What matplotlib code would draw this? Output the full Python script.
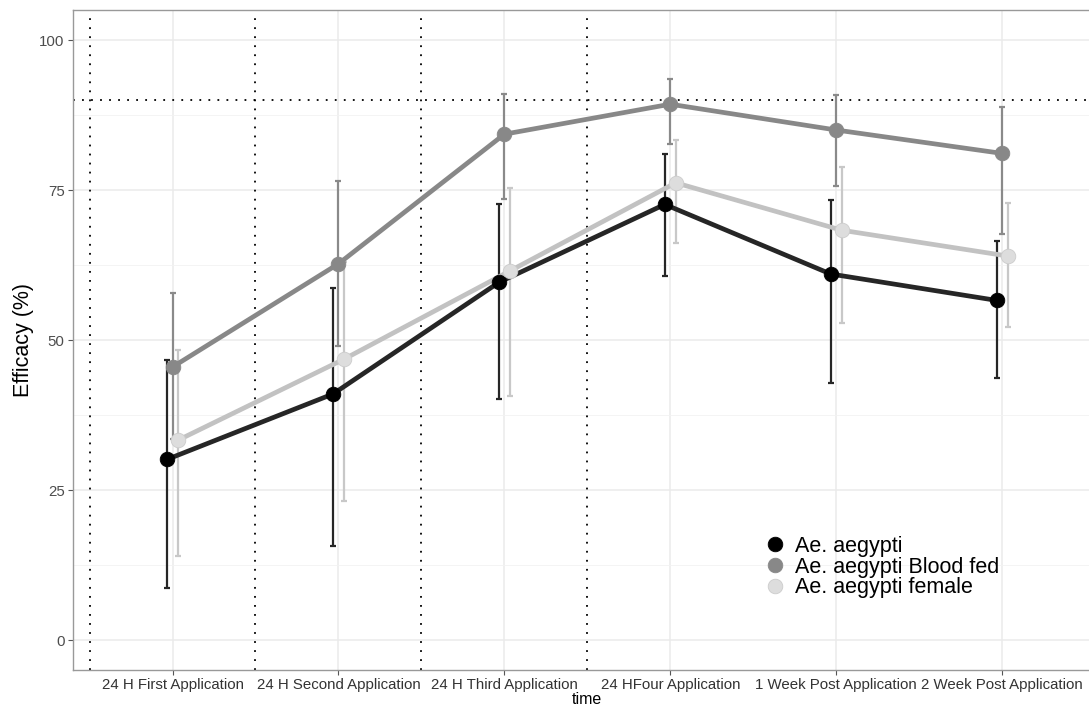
import matplotlib
matplotlib.use("Agg")
import matplotlib.pyplot as plt
from matplotlib.lines import Line2D
import numpy as np

plt.rcParams['font.family'] = ['Liberation Sans', 'DejaVu Sans']

categories = ["24 H First Application", "24 H Second Application", "24 H Third Application",
              "24 HFour Application", "1 Week Post Application", "2 Week Post Application"]

series_names = ["Ae. aegypti", "Ae. aegypti Blood fed", "Ae. aegypti female"]

aegypti_mean = [30.1, 41.0, 59.6, 72.6, 61.0, 56.6]
aegypti_low = [8.6, 15.7, 40.1, 60.6, 42.8, 43.7]
aegypti_high = [46.7, 58.6, 72.6, 81.0, 73.3, 66.5]

bloodfed_mean = [45.5, 62.7, 84.3, 89.3, 85.0, 81.1]
bloodfed_low = [33.5, 49.0, 73.5, 82.6, 75.7, 67.7]
bloodfed_high = [57.9, 76.5, 91.0, 93.5, 90.8, 88.9]

female_mean = [33.3, 46.8, 61.5, 76.2, 68.3, 64.0]
female_low = [14.0, 23.2, 40.7, 66.2, 52.8, 52.2]
female_high = [48.4, 63.0, 75.3, 83.3, 78.8, 72.9]

vlines_at = [0.5, 1.5, 2.5, 3.5]
hline_at = 90

W, H = 1089, 707
fig = plt.figure(figsize=(W / 100, H / 100), dpi=100)
ax = fig.add_axes([73 / W, (H - 670) / H, (1101.6 - 73) / W, 660 / H])

x = np.arange(1, len(categories) + 1)
dodge = [-0.033, 0.0, 0.033]
means = [aegypti_mean, bloodfed_mean, female_mean]
lows = [aegypti_low, bloodfed_low, female_low]
highs = [aegypti_high, bloodfed_high, female_high]
line_cols = ["#262626", "#888888", "#c2c2c2"]
err_cols = ["#262626", "#8a8a8a", "#c8c8c8"]
pt_face = ["#000000", "#888888", "#dddddd"]
pt_edge = ["#000000", "#888888", "#cccccc"]

for i in range(3):
    m = np.array(means[i]); lo = np.array(lows[i]); hi = np.array(highs[i])
    xs = x + dodge[i]
    ax.errorbar(xs, m, yerr=[m - lo, hi - m], fmt='none', ecolor=err_cols[i],
                elinewidth=1.6, capsize=2.2, capthick=1.6, zorder=3)
for i in range(3):
    xs = x + dodge[i]
    ax.plot(xs, means[i], color=line_cols[i], lw=3.4, zorder=4, solid_capstyle='butt')
for i in range(3):
    xs = x + dodge[i]
    ax.plot(xs, means[i], 'o', ms=10.5, mfc=pt_face[i], mec=pt_edge[i], mew=0.6, zorder=5)

for v in vlines_at:
    ax.axvline(v, color='black', lw=1.3, ls=(0, (1, 4)), zorder=2.5)
ax.axhline(hline_at, color='black', lw=1.3, ls=(0, (1, 4)), zorder=2.5)

ax.set_xlim(0.4, 6.6)
ax.set_ylim(-5, 105)
ax.set_xticks(x)
ax.set_xticklabels(categories)
ax.set_yticks([0, 25, 50, 75, 100])
ax.set_yticks([12.5, 37.5, 62.5, 87.5], minor=True)
ax.grid(which='major', color='#ebebeb', lw=1.1, zorder=0)
ax.grid(which='minor', axis='y', color='#f2f2f2', lw=0.6, zorder=0)
ax.set_axisbelow(True)

ax.tick_params(axis='both', which='major', length=3.5, width=0.8, color='#555555',
               labelsize=10.8, labelcolor='#4d4d4d', pad=2.5)
ax.tick_params(axis='y', which='minor', length=0)
ax.tick_params(axis='x', labelcolor='#333333')
for s in ax.spines.values():
    s.set_color('#999999')
    s.set_linewidth(1.0)

ax.set_xlabel("time", fontsize=11.5, color='black', labelpad=0)
ax.set_ylabel("Efficacy (%)", fontsize=15.5, color='black', labelpad=4)

handles = [Line2D([], [], ls='none', marker='o', ms=10.5, mfc=pt_face[i], mec=pt_edge[i], mew=0.6)
           for i in range(3)]
leg = fig.legend(handles, series_names, loc='upper left', bbox_to_anchor=(764 / W, 1 - 536 / H),
                 frameon=False, fontsize=15.5, handletextpad=0.45, labelspacing=-0.02,
                 handlelength=1.0, borderaxespad=0, borderpad=0)

fig.savefig("out.png", dpi=100)
